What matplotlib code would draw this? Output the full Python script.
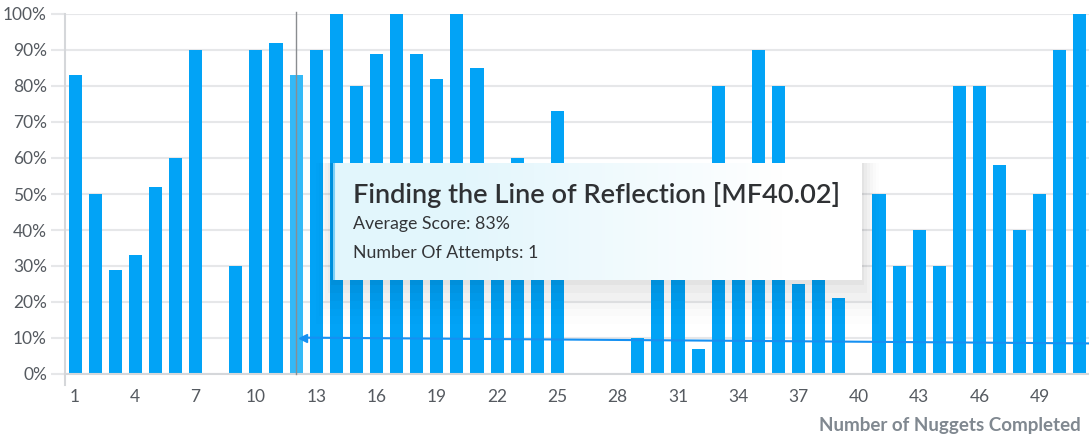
import numpy as np
import matplotlib.pyplot as plt
from matplotlib.patches import Rectangle

# nugget number -> average score (%), 0 = no bar
nuggets = list(range(1, 52))
scores = [83, 50, 29, 33, 52, 60, 90, 0, 30, 90,
          92, 83, 90, 100, 80, 89, 100, 89, 82, 100,
          85, 55, 60, 45, 73, 0, 0, 0, 10, 50,
          45, 7, 80, 50, 90, 80, 25, 40, 21, 0,
          50, 30, 40, 30, 80, 80, 58, 40, 50, 90,
          100]
highlight = 12
x_ticks = list(range(1, 50, 3))
y_ticks = list(range(0, 101, 10))

# trend line (start has the arrow head)
trend_x = [12.35, 51.4]
trend_y = [10.1, 8.5]

tooltip_title = "Finding the Line of Reflection [MF40.02]"
tooltip_lines = ["Average Score: 83%", "Number Of Attempts: 1"]

BAR = "#02a3f6"
BAR_HI = "#33b9f7"
GRID = "#e6e7e9"
TXT = "#555a60"

plt.rcParams['font.family'] = ['Lato', 'DejaVu Sans']

W, H = 1089, 434
fig = plt.figure(figsize=(W / 100, H / 100), dpi=100)


def fx(px):
    return px / W


def fy(py):
    return 1 - py / H


ax = fig.add_axes([fx(65), fy(374), fx(W - 65), fy(14) - fy(374)])

colors = [BAR_HI if n == highlight else BAR for n in nuggets]
ax.bar(nuggets, scores, width=0.65, color=colors, zorder=2)

ax.set_xlim(0.5, 51.45)
ax.set_ylim(0, 100)
ax.set_xticks(x_ticks)
ax.set_yticks(y_ticks)
ax.set_yticklabels([f"{v}%" for v in y_ticks])
ax.yaxis.grid(True, color=GRID, lw=1.5, zorder=0)
ax.tick_params(axis='y', length=10, width=1.5, color=GRID, pad=3,
               labelsize=12.5, labelcolor=TXT)
ax.tick_params(axis='x', length=0, pad=11, labelsize=12.5, labelcolor=TXT)
for s in ['top', 'right']:
    ax.spines[s].set_visible(False)
ax.spines['bottom'].set_color("#d5d7da")
ax.spines['bottom'].set_linewidth(1.5)
ax.spines['left'].set_color("#d5d7da")
ax.spines['left'].set_linewidth(1.5)
ax.spines['left'].set_bounds(-3, 100)
ax.spines['left'].set_clip_on(False)

# crosshair
ax.axvline(highlight, ymin=0, ymax=1.005, color="#8a8d90", lw=1, zorder=3,
           clip_on=False)

# trend line with arrow
ax.plot(trend_x, trend_y, color="#1590f2", lw=1.5, zorder=4, clip_on=False)
ax.plot(trend_x[0], trend_y[0], marker='<', ms=6, color="#1590f2", zorder=4)

ax.text(0.992, -0.142, "Number of Nuggets Completed", transform=ax.transAxes,
        ha='right', va='center', fontsize=13.5, fontweight='bold',
        color="#808890")

# tooltip shadow
tx0, ty0, tx1, ty1 = 333, 163, 862, 280
for i, a in enumerate([0.03, 0.025, 0.02, 0.015, 0.012, 0.008]):
    g = 4 + i * 6
    fig.patches.append(Rectangle((fx(tx0 - g / 2), fy(ty1 + g * 1.3)),
                                 fx(tx1 - tx0 + g), fy(ty0) - fy(ty1 + g * 1.3),
                                 transform=fig.transFigure, facecolor='black',
                                 edgecolor='none', alpha=a, zorder=5))

# tooltip body with gradient
tax = fig.add_axes([fx(tx0), fy(ty1), fx(tx1 - tx0), fy(ty0) - fy(ty1)],
                   zorder=6)
grad = np.linspace(0, 1, 256)
c0 = np.array([0.89, 0.965, 0.99])
c1 = np.array([1.0, 1.0, 1.0])
t = np.clip((grad - 0.25) / 0.6, 0, 1)
img = c0[None, :] * (1 - t[:, None]) + c1[None, :] * t[:, None]
tax.imshow(img[None, :, :], aspect='auto', extent=[0, 1, 0, 1])
tax.set_xlim(0, 1)
tax.set_ylim(0, 1)
tax.set_xticks([])
tax.set_yticks([])
for s in tax.spines.values():
    s.set_visible(False)
tax.axvline(0.002, color="#7fd0f8", lw=1.5)

lx = fx(353 - tx0) / fx(tx1 - tx0)
tax.text(lx, 0.73, tooltip_title, transform=tax.transAxes, fontsize=19.5,
         fontweight='semibold', color="#2f3134", va='center', ha='left')
for k, line in enumerate(tooltip_lines):
    tax.text(lx, 0.475 - k * 0.245, line, transform=tax.transAxes,
             fontsize=12.8, color="#333538", va='center', ha='left')

fig.savefig("out.png", dpi=100)
